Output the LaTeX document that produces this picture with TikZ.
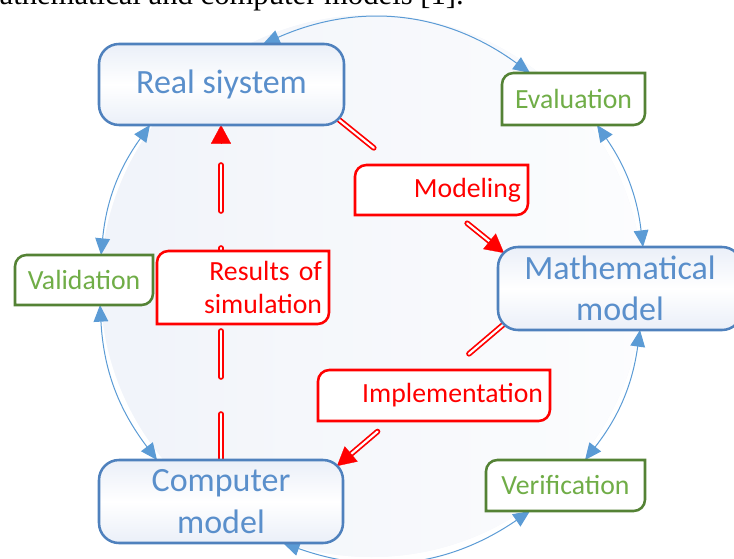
\documentclass[tikz,border=0pt]{standalone}
\usepackage{fontspec}
\setmainfont{Carlito}
\newfontfamily\citefont{Liberation Serif}
\usepackage{tikz}
\usetikzlibrary{arrows.meta, calc}

\definecolor{sysblue}{HTML}{4F81BD}
\definecolor{systext}{HTML}{5A8FCB}
\definecolor{linkblue}{HTML}{5B9BD5}
\definecolor{chkgreen}{HTML}{548235}
\definecolor{chktext}{HTML}{70AD47}
\definecolor{tint}{HTML}{EAEFF8}
\definecolor{disctint}{HTML}{F1F4FA}
\definecolor{shade}{HTML}{DCE5F1}

\pgfdeclarelayer{disc}
\pgfdeclarelayer{links}
\pgfdeclarelayer{boxes}
\pgfsetlayers{disc,links,boxes,main}

% box with the top left and bottom right corners rounded
\newcommand\cutpath[1]{%
  ([xshift=8.5pt]#1.north west) -- (#1.north east) -- ([yshift=8.5pt]#1.south east)
  arc[start angle=0, end angle=-90, radius=8.5pt] -- (#1.south west)
  -- ([yshift=-8.5pt]#1.north west) arc[start angle=180, end angle=90, radius=8.5pt] -- cycle}
\newcommand\cutbox[2]{%
  \fill[shade, xshift=1pt, yshift=-1.5pt] \cutpath{#1};
  \draw[#2, line width=1.9pt, fill=white] \cutpath{#1};}

\begin{document}
\begin{tikzpicture}[x=0.75pt, y=-0.75pt,
  model/.style={draw=sysblue, line width=1.9pt, rounded corners=15pt,
    top color=tint, bottom color=tint, middle color=white, text=systext,
    font=\fontsize{25.5}{31}\selectfont, align=center, inner sep=0pt, outer sep=0pt},
  check/.style={text=chktext, font=\fontsize{20.8}{25}\selectfont, inner sep=0pt, outer sep=0pt},
  task/.style={text=red, font=\fontsize{20.8}{24.5}\selectfont, align=right,
    inner xsep=5.25pt, inner ysep=0pt, outer sep=0pt},
  link/.style={linkblue, line width=0.75pt,
    {Triangle[length=12.5pt,width=11pt]}-{Triangle[length=12.5pt,width=11pt]}},
  pipe/.style={draw=red, line width=1.3pt, double=white, double distance=1.6pt,
    line cap=round, dash pattern=on 34.5pt off 27.75pt, shorten >=13pt},
  tip/.style={red, line width=0.2pt, -{Triangle[length=14pt,width=15pt]}}]
  \useasboundingbox (0,0) rectangle (734,559);

  \node[font=\citefont\fontsize{23}{23}\selectfont, anchor=base east, inner sep=0pt] (cite) at (464,5)
    {athematical and computer models [1].};

  % main blocks
  \node[model, minimum width=183.75pt, minimum height=60.75pt] (real) at (221.5,84.5) {Real siystem};
  \node[model, minimum width=183pt, minimum height=62.25pt] (math) at (620,288.5) {Mathematical\\model};
  \node[model, minimum width=183pt, minimum height=62.25pt] (comp) at (221,501.5) {Computer\\model};

  % checks
  \node[check, minimum width=107.25pt, minimum height=39pt] (eval) at (573.5,99) {Evaluation};
  \node[check, minimum width=103.5pt, minimum height=37.5pt] (valid) at (84,280) {Validation};
  \node[check, minimum width=119.25pt, minimum height=38.25pt] (verif) at (565.5,485.5) {Verification};

  % steps
  \node[task, text width=118.5pt, minimum height=54.75pt] (results) at (243,287.5) {Results of\\simulation};
  \node[task, text width=119.25pt, minimum height=37.5pt] (modeling) at (441.5,190) {Modeling};
  \node[task, text width=163.5pt, minimum height=38.25pt] (impl) at (434,395.5) {Implementation};

  \begin{pgfonlayer}{disc}
    \fill[disctint] (371.5,286) circle[radius=203.25pt];
    \shade[left color=disctint, right color=white, opacity=0.8] (371.5,286) circle[radius=203.25pt];
  \end{pgfonlayer}

  \begin{pgfonlayer}{boxes}
    \cutbox{eval}{chkgreen}
    \cutbox{valid}{chkgreen}
    \cutbox{verif}{chkgreen}
    \cutbox{results}{red}
    \cutbox{modeling}{red}
    \cutbox{impl}{red}
  \end{pgfonlayer}

  \begin{pgfonlayer}{links}
    % outer ring
    \draw[link] ($(real.north)+(41.5,0)$) to[bend left=30] ($(eval.north)+(-43.5,0)$);
    \draw[link] ($(eval.south)+(23.5,0)$) to[bend left=14] ($(math.north)+(23,0)$);
    \draw[link] ($(math.south)+(20,0)$) to[bend left=15] ($(verif.north)+(19.5,0)$);
    \draw[link] ($(verif.south)+(-35.5,0)$) to[bend left=27] ($(comp.south)+(62,0)$);
    \draw[link] ($(comp.north)+(-64,0)$) to[bend left=17] ($(valid.south)+(16,0)$);
    \draw[link] ($(valid.north)+(17,0)$) to[bend left=15] ($(real.south)+(-71.5,0)$);
    % inner steps
    \draw[pipe] ($(real.south east)+(-6,-6)$) -- ($(math.north west)+(6,6)$);
    \draw[tip] ($($(math.north west)+(6,6)$)!12pt!($(real.south east)+(-6,-6)$)$) -- ($(math.north west)+(6,6)$);
    \draw[pipe] ($(math.south west)+(6,-6)$) -- ($(comp.north east)+(-6,6)$);
    \draw[tip] ($($(comp.north east)+(-6,6)$)!12pt!($(math.south west)+(6,-6)$)$) -- ($(comp.north east)+(-6,6)$);
    \draw[pipe] (comp.north) -- (comp.north |- real.south);
    \draw[tip] ([yshift=-12pt]comp.north |- real.south) -- (comp.north |- real.south);
  \end{pgfonlayer}
\end{tikzpicture}
\end{document}
